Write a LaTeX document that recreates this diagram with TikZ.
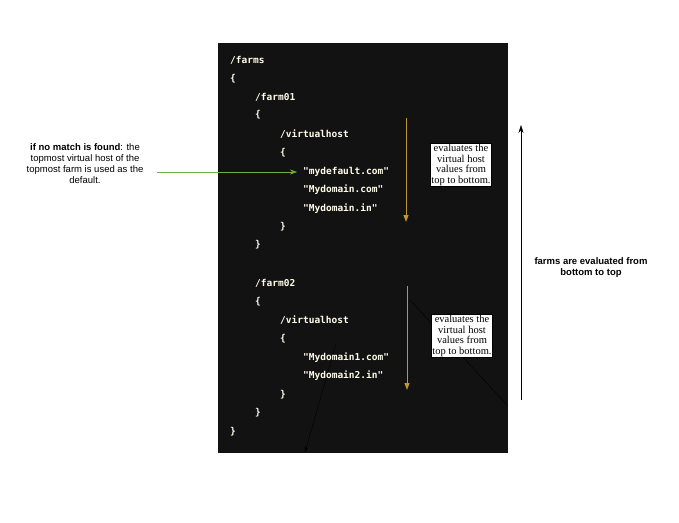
\documentclass[tikz,border=0pt]{standalone}
\usepackage{fontspec}
\setsansfont{Liberation Sans}
\setmainfont{Liberation Serif}
\setmonofont{DejaVu Sans Mono}
\usetikzlibrary{arrows.meta}
\begin{document}
\begin{tikzpicture}[x=1pt,y=-1pt,
  code/.style={anchor=west,inner sep=0pt,text=white!92!yellow,font=\ttfamily\bfseries\fontsize{9.5}{10}\selectfont},
  note/.style={fill=white,draw=black,line width=0.3pt,inner sep=1pt,align=center,font=\rmfamily\fontsize{10.5}{10.5}\selectfont},
  gold/.style={draw={rgb,255:red,191;green,150;blue,40},line width=1pt,-{Triangle[width=5pt,length=7pt]}},
  side/.style={align=center,font=\sffamily\fontsize{9.5}{11}\selectfont}]
\useasboundingbox (0,0) rectangle (679,522);
\fill[black!93] (218,43) rectangle (508,453);
\draw[black, thin] (410,300) -- (507,405);
\draw[black, thin,-{Stealth[length=5pt]}] (336,344) -- (305,452);
\node[code] (l1) at (230,60) {/farms};
\node[code] (l2) at (230,79) {\{};
\node[code] (l3) at (255,97) {/farm01};
\node[code] (l4) at (255,115) {\{};
\node[code] (l5) at (280,134) {/virtualhost};
\node[code] (l6) at (280,153) {\{};
\node[code] (l7) at (303,172) {"mydefault.com"};
\node[code] (l8) at (303,190) {"Mydomain.com"};
\node[code] (l9) at (303,209) {"Mydomain.in"};
\node[code] (l10) at (280,227) {\}};
\node[code] (l11) at (255,245) {\}};
\node[code] (l12) at (255,283) {/farm02};
\node[code] (l13) at (255,302) {\{};
\node[code] (l14) at (280,320) {/virtualhost};
\node[code] (l15) at (280,339) {\{};
\node[code] (l16) at (303,358) {"Mydomain1.com"};
\node[code] (l17) at (303,376) {"Mydomain2.in"};
\node[code] (l18) at (280,395) {\}};
\node[code] (l19) at (255,413) {\}};
\node[code] (l20) at (230,432) {\}};
\coordinate (g1a) at (406,118); \coordinate (g1b) at (406,222);
\coordinate (g2a) at (407,286); \coordinate (g2b) at (407,390);
\draw[gold] (g1a) -- (g1b);
\draw[gold] (g2a) -- (g2b);
\node[note] (n1) at (461,165) {evaluates the\\virtual host\\values from\\top to bottom.};
\node[note] (n2) at (462,336) {evaluates the\\virtual host\\values from\\top to bottom.};
\node[side] (left) at (85,164) {\textbf{if no match is found}: the\\topmost virtual host of the\\topmost farm is used as the\\default.};
\draw[draw={rgb,255:red,112;green,173;blue,71},-{Stealth[length=7pt,width=5pt]}] (157,172) -- ([xshift=-6pt]l7.west);
\coordinate (ua) at (521,400); \coordinate (ub) at (521,125);
\draw[black,-{Stealth[length=8pt,width=5pt]}] (ua) -- (ub);
\node[side,font=\sffamily\bfseries\fontsize{9.5}{11}\selectfont] (right) at (591,268) {farms are evaluated from\\bottom to top};
\end{tikzpicture}
\end{document}
